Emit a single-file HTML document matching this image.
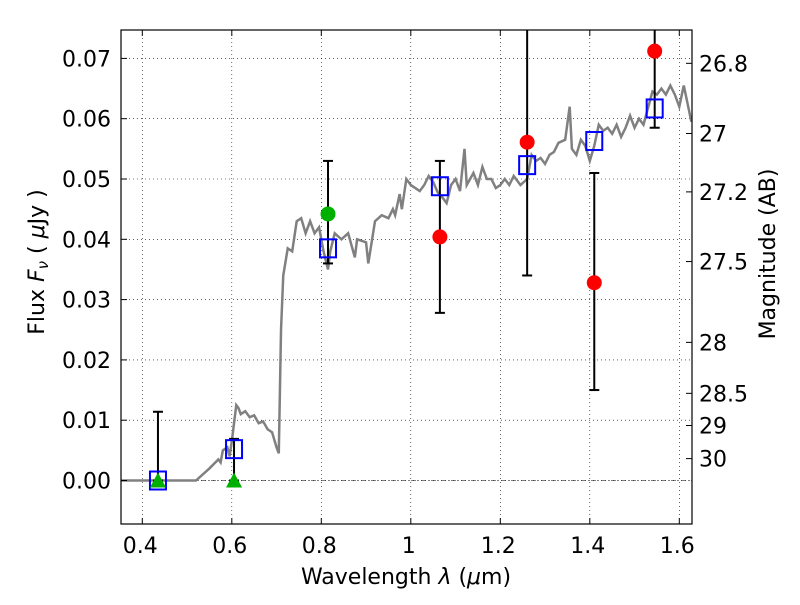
<!DOCTYPE html>
<html><head><meta charset="utf-8"><style>
body{margin:0;background:#fff;font-family:"Liberation Sans","DejaVu Sans",sans-serif}
svg text{font-family:"DejaVu Sans","Liberation Sans",sans-serif;fill:#000}
</style></head><body>
<svg id="c" width="800" height="600"></svg>
<script>
const specX=[0.35,0.52,0.55,0.57,0.575,0.58,0.59,0.595,0.6,0.61,0.615,0.62,0.63,0.64,0.65,0.66,0.67,0.68,0.69,0.7,0.705,0.71,0.715,0.725,0.735,0.745,0.755,0.765,0.775,0.785,0.795,0.805,0.815,0.82,0.83,0.845,0.86,0.875,0.88,0.9,0.905,0.92,0.935,0.95,0.96,0.965,0.975,0.98,0.99,1.0,1.02,1.03,1.04,1.05,1.06,1.07,1.08,1.09,1.1,1.11,1.12,1.125,1.14,1.15,1.16,1.17,1.18,1.19,1.2,1.21,1.22,1.23,1.245,1.26,1.27,1.28,1.29,1.3,1.31,1.32,1.33,1.345,1.355,1.36,1.37,1.38,1.39,1.4,1.41,1.42,1.43,1.44,1.45,1.46,1.47,1.48,1.49,1.5,1.51,1.52,1.54,1.55,1.56,1.57,1.58,1.59,1.6,1.61,1.627];
const specY=[0,0,0.002,0.0035,0.003,0.005,0.0055,0.004,0.0065,0.0125,0.012,0.011,0.0115,0.0105,0.0108,0.0095,0.0098,0.0085,0.008,0.0055,0.0045,0.025,0.034,0.0385,0.038,0.043,0.0435,0.041,0.043,0.041,0.042,0.038,0.035,0.038,0.041,0.04,0.041,0.037,0.04,0.0395,0.036,0.043,0.044,0.0435,0.045,0.044,0.0475,0.045,0.05,0.049,0.048,0.049,0.0505,0.0495,0.0478,0.047,0.046,0.049,0.05,0.048,0.055,0.049,0.051,0.049,0.052,0.05,0.05,0.0485,0.049,0.05,0.049,0.0505,0.049,0.05,0.054,0.053,0.0535,0.0525,0.054,0.0545,0.056,0.0565,0.062,0.055,0.054,0.0565,0.0555,0.053,0.0555,0.059,0.058,0.0585,0.0575,0.059,0.057,0.0585,0.0605,0.0585,0.06,0.059,0.0645,0.064,0.065,0.064,0.0655,0.064,0.062,0.0655,0.0595];
const bandX=[0.435,0.605,0.815,1.065,1.26,1.41,1.545];
const modelY=[0,0.0052,0.0385,0.0488,0.0523,0.0563,0.0617];
const obsY=[0,0,0.0442,0.0404,0.0561,0.0328,0.0712];
const errLo=[0,0,0.036,0.0278,0.034,0.015,0.0585];
const errHi=[0.0114,0.0069,0.053,0.053,0.09,0.051,0.09];
const obsKind=['limit','limit','green','red','red','red','red'];
const xTicks=[0.4,0.6,0.8,1.0,1.2,1.4,1.6];
const xTickLabels=['0.4','0.6','0.8','1','1.2','1.4','1.6'];
const yTicks=[0,0.01,0.02,0.03,0.04,0.05,0.06,0.07];
const yTickLabels=['0.00','0.01','0.02','0.03','0.04','0.05','0.06','0.07'];
const magTicks=[26.8,27,27.2,27.5,28,28.5,29,30];
const magLabels=['26.8','27','27.2','27.5','28','28.5','29','30'];

const L=121,R=692,T=30,B=524;
const X=v=>142.3+(v-0.4)*447.5;
const Y=v=>480.5-v*6030;
const svg=document.getElementById('c');
const NS='http://www.w3.org/2000/svg';
function mk(t,a,p){const e=document.createElementNS(NS,t);for(const k in a)e.setAttribute(k,a[k]);(p||svg).appendChild(e);return e;}
const clip=mk('clipPath',{id:'cp'});mk('rect',{x:L,y:T,width:R-L,height:B-T},clip);
const g=mk('g',{'clip-path':'url(#cp)'});


xTicks.forEach(v=>{const l=mk('line',{x1:X(v),x2:X(v),y1:T,y2:B,stroke:'#000','stroke-width':0.6,'stroke-dasharray':'1,3'},g);

});
yTicks.forEach(v=>{const l=mk('line',{x1:L,x2:R,y1:Y(v),y2:Y(v),stroke:'#000','stroke-width':0.6,'stroke-dasharray':'1,3'},g);

});
const zl=mk('line',{x1:L,x2:R,y1:Y(0),y2:Y(0),stroke:'#000','stroke-width':0.6,'stroke-dasharray':'5,2,1,2'},g);


const sp=mk('polyline',{points:specX.map((x,i)=>X(x)+','+Y(specY[i])).join(' '),fill:'none',stroke:'#808080','stroke-width':2.5},g);


bandX.forEach((x,i)=>{const eg=mk('g',{},g);


mk('line',{x1:X(x),x2:X(x),y1:Y(errLo[i]),y2:Y(errHi[i]),stroke:'#000','stroke-width':2},eg);
[errLo[i],errHi[i]].forEach(v=>mk('line',{x1:X(x)-5,x2:X(x)+5,y1:Y(v),y2:Y(v),stroke:'#000','stroke-width':2},eg));});
bandX.forEach((x,i)=>{const r=mk('rect',{x:X(x)-8,y:Y(modelY[i])-9,width:16,height:18,fill:'none',stroke:'#0000ff','stroke-width':2},g);

});
bandX.forEach((x,i)=>{let e;
if(obsKind[i]==='limit'){const cx=X(x),cy=Y(obsY[i]);e=mk('polygon',{points:`${cx},${cy-8} ${cx-8},${cy+7} ${cx+8},${cy+7}`,fill:'#00b000'},g);}
else e=mk('circle',{cx:X(x),cy:Y(obsY[i]),r:7.5,fill:obsKind[i]==='green'?'#00b000':'#ff0000'},g);

});
const fr=mk('rect',{x:L,y:T,width:R-L,height:B-T,fill:'none',stroke:'#000','stroke-width':1.2});


xTicks.forEach((v,i)=>{mk('line',{x1:X(v),x2:X(v),y1:B,y2:B-6,stroke:'#000'});mk('line',{x1:X(v),x2:X(v),y1:T,y2:T+6,stroke:'#000'});
const t=mk('text',{x:X(v)-2,y:553,'font-size':22,'text-anchor':'middle'});t.textContent=xTickLabels[i];

});
yTicks.forEach((v,i)=>{mk('line',{x1:L,x2:L+6,y1:Y(v),y2:Y(v),stroke:'#000'});
const t=mk('text',{x:111,y:Y(v)+8,'font-size':22,'text-anchor':'end'});t.textContent=yTickLabels[i];

});
magTicks.forEach((m,i)=>{const f=Math.pow(10,(23.9-m)/2.5);const y=Y(f);mk('line',{x1:R-6,x2:R,y1:y,y2:y,stroke:'#000'});
const t=mk('text',{x:699,y:y+8,'font-size':22});t.textContent=magLabels[i];

});
let t=mk('text',{x:406,y:584,'font-size':22,'text-anchor':'middle'});t.innerHTML='Wavelength  <tspan font-style="italic">λ</tspan> (<tspan font-style="italic">μ</tspan>m)';


t=mk('text',{x:0,y:0,'font-size':22,'text-anchor':'middle',transform:'translate(44,262) rotate(-90)'});t.innerHTML='Flux  <tspan font-style="italic">F</tspan><tspan font-style="italic" font-size="15" dy="4">ν</tspan><tspan dy="-4">  (  </tspan><tspan font-style="italic">μ</tspan>Jy )';


t=mk('text',{x:0,y:0,'font-size':22,'text-anchor':'middle',transform:'translate(775,254) rotate(-90)'});t.textContent='Magnitude (AB)';


</script>
</body></html>
